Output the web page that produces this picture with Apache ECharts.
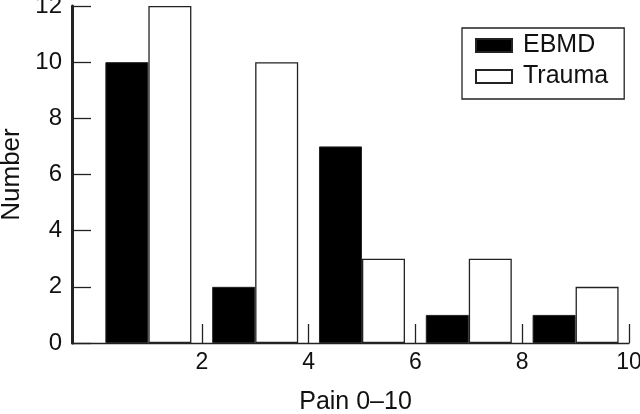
<!DOCTYPE html>
<html>
<head>
<meta charset="utf-8">
<script src="https://cdn.jsdelivr.net/npm/echarts@6/dist/echarts.min.js"></script>
<style>
  html, body { margin: 0; padding: 0; background: #fff; }
  #chart { width: 640px; height: 414px; }
</style>
</head>
<body>
<div id="chart"></div>
<script>
// pain score bins (centre of each 2-point bin)
const binCentres = [1, 3, 5, 7, 9]
const ebmdCounts = [10, 2, 7, 1, 1]
const traumaCounts = [12, 10, 3, 3, 2]
const xTickValues = [2, 4, 6, 8, 10]

const FONT = 'Liberation Sans'
const INK = '#222'

const chart = echarts.init(document.getElementById('chart'), null, { renderer: 'canvas' })

const option = {
  animation: false,
  backgroundColor: '#fff',
  textStyle: { fontFamily: FONT, color: '#111' },
  grid: { left: 72, right: 11, top: 6, bottom: 71, outerBoundsMode: 'none' },
  legend: {
    orient: 'vertical',
    left: 462,
    top: 28,
    padding: [5, 16, 10, 13],
    icon: 'rect',
    itemWidth: 36,
    itemHeight: 13,
    itemGap: 6,
    borderColor: INK,
    borderWidth: 1.3,
    textStyle: { fontFamily: FONT, fontSize: 25, color: '#111', padding: [0, 0, 0, 6] },
    data: ['EBMD', 'Trauma']
  },
  xAxis: {
    type: 'value',
    min: -0.43,
    max: 10,
    name: 'Pain 0–10',
    nameLocation: 'middle',
    nameGap: 47,
    nameTextStyle: { fontFamily: FONT, fontSize: 25, color: '#111', padding: [0, 0, 0, 10] },
    splitLine: { show: false },
    axisLine: { onZero: false, lineStyle: { color: INK, width: 1.3 } },
    axisTick: { inside: true, length: 19, customValues: xTickValues, lineStyle: { color: INK, width: 1.3 } },
    axisLabel: { customValues: xTickValues, fontSize: 23, color: '#111', margin: 8, fontFamily: FONT }
  },
  yAxis: {
    type: 'value',
    min: 0,
    max: 12,
    interval: 2,
    name: 'Number',
    nameLocation: 'middle',
    nameGap: 47,
    nameTextStyle: { fontFamily: FONT, fontSize: 26, color: '#111' },
    splitLine: { show: false },
    axisLine: { show: true, onZero: false, lineStyle: { color: INK, width: 3 } },
    axisTick: { show: true, inside: true, length: 19, lineStyle: { color: INK, width: 1.3 } },
    axisLabel: { fontSize: 24, color: '#111', margin: 10, fontFamily: FONT }
  },
  series: [
    {
      name: 'EBMD',
      type: 'bar',
      barWidth: 43,
      barGap: '0%',
      itemStyle: { color: '#000', borderColor: INK, borderWidth: 1 },
      data: binCentres.map((x, i) => [x, ebmdCounts[i]])
    },
    {
      name: 'Trauma',
      type: 'bar',
      barWidth: 43,
      barGap: '0%',
      itemStyle: { color: '#fff', borderColor: INK, borderWidth: 1.3 },
      data: binCentres.map((x, i) => [x, traumaCounts[i]])
    }
  ]
}

chart.setOption(option)
</script>
</body>
</html>
